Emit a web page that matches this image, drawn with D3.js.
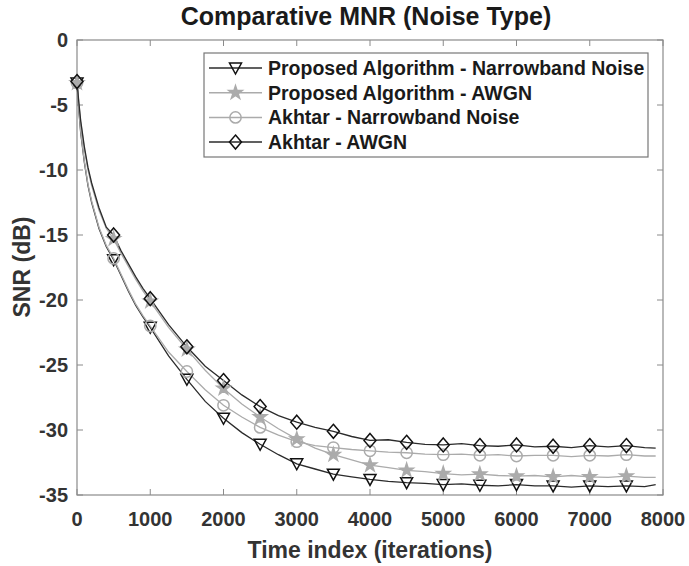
<!DOCTYPE html>
<html lang="en">
<head>
    <meta charset="UTF-8">
    <title>Comparative MNR</title>
    <style>
        body {
            margin: 0;
            padding: 0;
            overflow: hidden;
            background: #fff;
        }
        text {
            font-family: "Liberation Sans", Arial, sans-serif;
            font-weight: bold;
        }
    </style>
</head>
<body>
<svg id="graph" width="689" height="566"></svg>
<script src="https://cdn.jsdelivr.net/npm/d3@7"></script>
<script>
    const iters = [0, 25, 50, 100, 150, 200, 300, 400, 500, 600, 700, 800, 900, 1000,
        1250, 1500, 1750, 2000, 2250, 2500, 2750, 3000, 3250, 3500, 3750, 4000, 4250, 4500,
        4750, 5000, 5250, 5500, 5750, 6000, 6250, 6500, 6750, 7000, 7250, 7500, 7750, 7900];

    const proposedNarrow = [-3.3, -5.4, -7.1, -9.4, -11.2, -12.5, -14.5, -15.9, -16.9, -18.1, -19.3, -20.4, -21.3, -22.1,
        -24.3, -26.1, -27.8, -29.1, -30.2, -31.1, -31.9, -32.6, -33.0, -33.4, -33.6, -33.8, -33.95, -34.05,
        -34.1, -34.2, -34.15, -34.25, -34.3, -34.2, -34.3, -34.3, -34.4, -34.3, -34.35, -34.3, -34.35, -34.2];

    const proposedAwgn = [-3.3, -4.9, -6.3, -8.4, -10.0, -11.2, -13.1, -14.5, -15.3, -16.4, -17.4, -18.4, -19.3, -20.1,
        -22.1, -23.8, -25.4, -26.8, -28.0, -29.0, -29.9, -30.7, -31.4, -31.9, -32.3, -32.7, -32.9, -33.1,
        -33.2, -33.35, -33.45, -33.4, -33.5, -33.55, -33.5, -33.6, -33.5, -33.6, -33.65, -33.55, -33.65, -33.65];

    const akhtarNarrow = [-3.3, -5.3, -7.0, -9.3, -11.1, -12.4, -14.4, -15.8, -16.8, -18.0, -19.2, -20.3, -21.2, -22.0,
        -24.0, -25.5, -26.9, -28.1, -29.0, -29.8, -30.4, -30.9, -31.2, -31.35, -31.5, -31.6, -31.7, -31.75,
        -31.85, -31.9, -31.85, -31.95, -31.9, -32.0, -31.95, -31.95, -32.05, -31.95, -32.0, -31.9, -32.0, -32.0];

    const akhtarAwgn = [-3.2, -4.8, -6.2, -8.2, -9.8, -11.0, -12.9, -14.4, -15.0, -16.2, -17.2, -18.2, -19.1, -19.9,
        -21.9, -23.6, -25.1, -26.2, -27.3, -28.2, -28.9, -29.4, -29.8, -30.1, -30.5, -30.8, -30.75, -30.95,
        -31.1, -31.15, -31.05, -31.2, -31.25, -31.15, -31.3, -31.25, -31.35, -31.2, -31.3, -31.2, -31.35, -31.4];

    const seriesNames = ["Proposed Algorithm - Narrowband Noise", "Proposed Algorithm - AWGN",
        "Akhtar - Narrowband Noise", "Akhtar - AWGN"];
    const xTicks = [0, 1000, 2000, 3000, 4000, 5000, 6000, 7000, 8000];
    const yTicks = [0, -5, -10, -15, -20, -25, -30, -35];

    const dark = "#2b2b2b", light = "#ababab";
    const styles = [
        {color: dark, marker: "tri", fill: "none"},
        {color: light, marker: "star", fill: light},
        {color: light, marker: "circle", fill: "none"},
        {color: dark, marker: "diamond", fill: "none"}
    ];
    const allSeries = [proposedNarrow, proposedAwgn, akhtarNarrow, akhtarAwgn];

    const pLeft = 77, pRight = 663, pTop = 40, pBottom = 495;
    const x = d3.scaleLinear().domain([0, 8000]).range([pLeft, pRight]);
    const y = d3.scaleLinear().domain([-35, 0]).range([pBottom, pTop]);

    const svg = d3.select("#graph");

    // marker shapes
    function markerPath(kind) {
        if (kind == "tri") return "M -6 -5 L 6 -5 L 0 6 Z";
        if (kind == "diamond") return "M 0 -7 L 6 0 L 0 7 L -6 0 Z";
        if (kind == "circle") return d3.symbol(d3.symbolCircle, 100)();
        return d3.symbol(d3.symbolStar, 55)();
    }

    // box + ticks
    const g = svg.append("g");
    g.append("rect")
        .attr("x", pLeft).attr("y", pTop)
        .attr("width", pRight - pLeft).attr("height", pBottom - pTop)
        .attr("fill", "none").attr("stroke", "#8a8a8a").attr("stroke-width", 1.2);

    const tl = 6;
    xTicks.forEach(t => {
        g.append("line").attr("x1", x(t)).attr("x2", x(t)).attr("y1", pBottom).attr("y2", pBottom - tl)
            .attr("stroke", "#8a8a8a");
        g.append("line").attr("x1", x(t)).attr("x2", x(t)).attr("y1", pTop).attr("y2", pTop + tl)
            .attr("stroke", "#8a8a8a");
        g.append("text").attr("x", x(t)).attr("y", pBottom + 31)
            .attr("text-anchor", "middle").attr("font-size", 20).attr("fill", "#333")
            .text(t);
    });
    yTicks.forEach(t => {
        g.append("line").attr("x1", pLeft).attr("x2", pLeft + tl).attr("y1", y(t)).attr("y2", y(t))
            .attr("stroke", "#8a8a8a");
        g.append("line").attr("x1", pRight).attr("x2", pRight - tl).attr("y1", y(t)).attr("y2", y(t))
            .attr("stroke", "#8a8a8a");
        g.append("text").attr("x", pLeft - 9).attr("y", y(t) + 7)
            .attr("text-anchor", "end").attr("font-size", 20).attr("fill", "#333")
            .text(t);
    });

    // curves
    const line = d3.line().x(d => x(d[0])).y(d => y(d[1]));
    allSeries.forEach((vals, i) => {
        const pts = iters.map((it, k) => [it, vals[k]]);
        svg.append("path")
            .attr("d", line(pts))
            .attr("fill", "none")
            .attr("stroke", styles[i].color)
            .attr("stroke-width", 1.3);
    });
    allSeries.forEach((vals, i) => {
        const pts = iters.map((it, k) => [it, vals[k]]).filter(p => p[0] % 500 == 0);
        svg.selectAll(".m" + i)
            .data(pts)
            .enter().append("path")
            .attr("d", markerPath(styles[i].marker))
            .attr("transform", d => `translate(${x(d[0])},${y(d[1])})`)
            .attr("fill", styles[i].fill)
            .attr("stroke", styles[i].color == dark ? "#111" : styles[i].color)
            .attr("stroke-width", 1.5);
    });

    // legend
    const lg = svg.append("g");
    lg.append("rect").attr("x", 204).attr("y", 53).attr("width", 444).attr("height", 104)
        .attr("fill", "#fff").attr("stroke", "#777").attr("stroke-width", 1.2);
    seriesNames.forEach((name, i) => {
        const ly = 68 + i * 24.7;
        lg.append("line").attr("x1", 209).attr("x2", 262).attr("y1", ly).attr("y2", ly)
            .attr("stroke", styles[i].color).attr("stroke-width", 1.5);
        lg.append("path").attr("d", markerPath(styles[i].marker))
            .attr("transform", `translate(235.5,${ly})`)
            .attr("fill", styles[i].fill)
            .attr("stroke", styles[i].color == dark ? "#111" : styles[i].color)
            .attr("stroke-width", 1.5);
        lg.append("text").attr("x", 268).attr("y", ly + 7)
            .attr("font-size", 19.5).attr("fill", "#1a1a1a").text(name);
    });

    // titles
    svg.append("text").attr("x", 366).attr("y", 25).attr("text-anchor", "middle")
        .attr("font-size", 25).attr("fill", "#1a1a1a").text("Comparative MNR (Noise Type)");
    svg.append("text").attr("x", 370).attr("y", 558).attr("text-anchor", "middle")
        .attr("font-size", 23).attr("fill", "#333").text("Time index (iterations)");
    svg.append("text").attr("transform", "translate(30,267) rotate(-90)").attr("text-anchor", "middle")
        .attr("font-size", 23).attr("fill", "#333").text("SNR (dB)");
</script>
</body>
</html>
